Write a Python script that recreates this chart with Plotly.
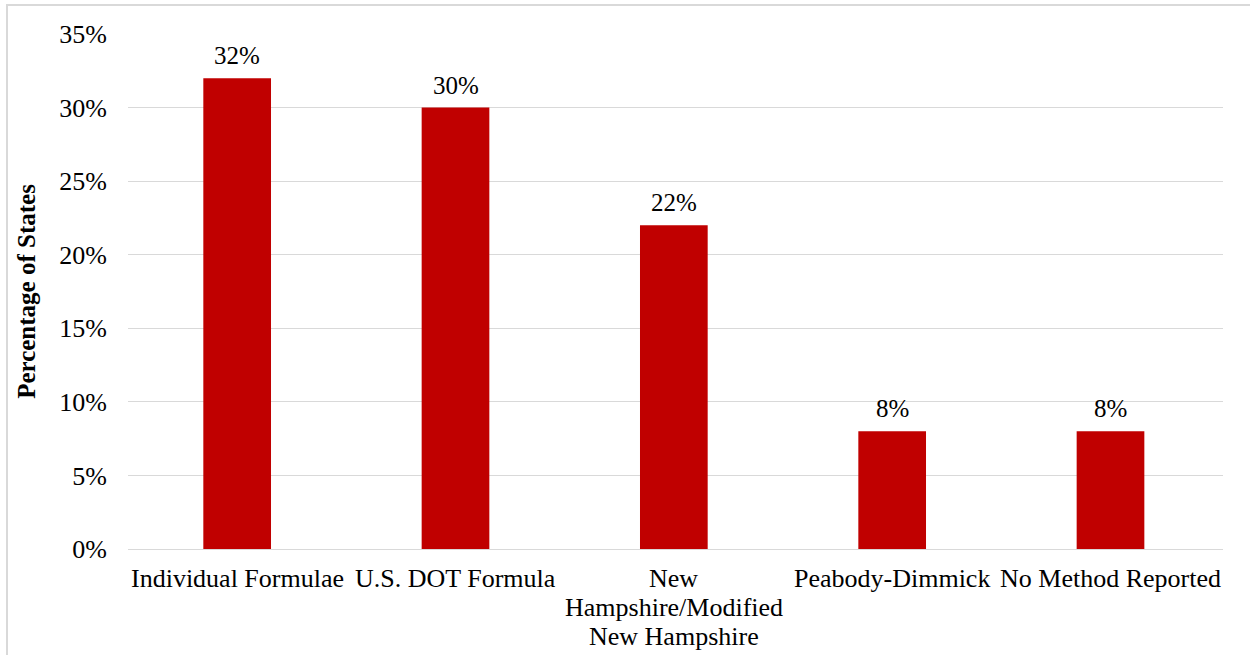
import plotly.graph_objects as go

categories = ["Individual Formulae", "U.S. DOT Formula",
              "New<br>Hampshire/Modified<br>New Hampshire",
              "Peabody-Dimmick", "No Method Reported"]
values = [32, 30, 22, 8, 8]
labels = ["32%", "30%", "22%", "8%", "8%"]
y_ticks = [0, 5, 10, 15, 20, 25, 30, 35]
y_tick_text = ["0%", "5%", "10%", "15%", "20%", "25%", "30%", "35%"]

font = "Liberation Serif, Times New Roman, serif"
fs_tick = 26
fs = 25
line_h = 29

fig = go.Figure(go.Bar(
    x=categories, y=values,
    marker=dict(color="#C00000", line=dict(width=0)),
    hoverinfo="y",
))

annotations = [dict(x=c, y=v, text=t, xref="x", yref="y", showarrow=False,
                    yanchor="bottom", yshift=7,
                    font=dict(family=font, size=fs, color="#000000"))
               for c, v, t in zip(categories, values, labels)]

# category labels drawn line by line (tighter line spacing than tick labels)
for c in categories:
    for i, part in enumerate(c.split("<br>")):
        annotations.append(dict(x=c, y=0, xref="x", yref="y", text=part,
                                showarrow=False, yanchor="middle",
                                yshift=-(line_h + line_h * i),
                                font=dict(family=font, size=fs_tick, color="#000000")))

fig.update_layout(
    width=1250, height=655,
    margin=dict(l=128, r=27, t=34, b=106, autoexpand=False),
    paper_bgcolor="white", plot_bgcolor="white",
    bargap=0.69, showlegend=False,
    font=dict(family=font, size=fs, color="#000000"),
    annotations=annotations,
    shapes=[dict(type="rect", xref="paper", yref="paper",
                 x0=-(128 - 7) / 1095, x1=1.2, y0=-0.5, y1=1 + (34 - 5) / 515,
                 line=dict(color="#D9D9D9", width=2), fillcolor="rgba(0,0,0,0)",
                 layer="below")],
)
fig.update_xaxes(showgrid=False, showline=True, linecolor="#D9D9D9", linewidth=1,
                 ticks="", showticklabels=False, automargin=False)
fig.update_yaxes(range=[0, 35], tickvals=y_ticks, ticktext=y_tick_text,
                 showgrid=True, gridcolor="#D9D9D9", gridwidth=1, zeroline=False,
                 showline=False, ticks="", ticklabelstandoff=20, automargin=False,
                 tickfont=dict(family=font, size=fs_tick, color="#000000"),
                 title=dict(text="<b>Percentage of States</b>", standoff=16,
                            font=dict(family=font, size=fs, color="#000000")))

fig.write_html("out.html", config={"displayModeBar": False},
               post_script="document.body.style.margin='0';")
